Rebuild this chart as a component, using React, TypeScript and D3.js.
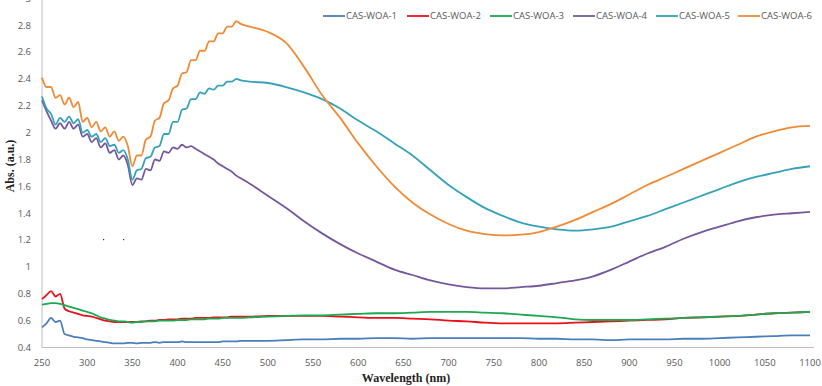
import React from "react";
import * as d3 from "d3";

const wavelengths = [
  250, 255, 260, 265, 270, 275, 280, 285, 290, 295, 300, 305, 310, 315, 320, 325, 330, 335, 340, 345,
  350, 355, 360, 365, 370, 375, 380, 385, 390, 395, 400, 405, 410, 415, 420, 425, 430, 435, 440, 445,
  450, 455, 460, 465, 470,
  480, 500, 520, 540, 560, 580, 600, 620, 640, 660, 680, 700, 720, 740, 760, 780, 800, 820, 840, 860,
  880, 900, 920, 940, 960, 980, 1000, 1020, 1040, 1060, 1080, 1100,
];

const casWoa1 = [
  0.55, 0.58, 0.62, 0.59, 0.6, 0.5, 0.49, 0.48, 0.475, 0.47, 0.46, 0.455, 0.45, 0.445, 0.44, 0.435, 0.43, 0.43, 0.43, 0.435,
  0.435, 0.43, 0.435, 0.435, 0.435, 0.44, 0.435, 0.44, 0.44, 0.44, 0.44, 0.445, 0.44, 0.44, 0.44, 0.44, 0.44, 0.44, 0.44, 0.44,
  0.445, 0.445, 0.445, 0.445, 0.45,
  0.45, 0.45, 0.455, 0.46, 0.46, 0.465, 0.465, 0.47, 0.47, 0.465, 0.47, 0.47, 0.47, 0.47, 0.47, 0.47, 0.465, 0.465, 0.46, 0.46,
  0.455, 0.46, 0.46, 0.46, 0.465, 0.465, 0.47, 0.475, 0.48, 0.485, 0.49, 0.49,
];

const casWoa2 = [
  0.76, 0.79, 0.82, 0.78, 0.8, 0.69, 0.67, 0.66, 0.65, 0.64, 0.635, 0.63, 0.62, 0.61, 0.6, 0.595, 0.59, 0.59, 0.59, 0.59,
  0.59, 0.59, 0.595, 0.595, 0.6, 0.6, 0.605, 0.605, 0.61, 0.61, 0.61, 0.615, 0.615, 0.615, 0.62, 0.62, 0.62, 0.62, 0.625, 0.625,
  0.625, 0.625, 0.63, 0.63, 0.63,
  0.63, 0.635, 0.635, 0.635, 0.635, 0.63, 0.625, 0.62, 0.62, 0.615, 0.61, 0.6, 0.595, 0.585, 0.58, 0.58, 0.58, 0.58, 0.585, 0.59,
  0.595, 0.6, 0.605, 0.61, 0.62, 0.625, 0.63, 0.635, 0.645, 0.655, 0.66, 0.665,
];

const casWoa3 = [
  0.72, 0.725, 0.73, 0.73, 0.725, 0.715, 0.705, 0.695, 0.685, 0.675, 0.665, 0.655, 0.64, 0.625, 0.615, 0.605, 0.6, 0.595, 0.595, 0.59,
  0.585, 0.59, 0.59, 0.595, 0.595, 0.595, 0.6, 0.6, 0.6, 0.6, 0.605, 0.605, 0.605, 0.61, 0.61, 0.61, 0.61, 0.615, 0.615, 0.615,
  0.62, 0.62, 0.62, 0.62, 0.62,
  0.625, 0.63, 0.635, 0.64, 0.64, 0.645, 0.65, 0.655, 0.655, 0.66, 0.665, 0.665, 0.665, 0.66, 0.655, 0.645, 0.635, 0.625, 0.61, 0.605,
  0.605, 0.605, 0.61, 0.615, 0.62, 0.625, 0.63, 0.635, 0.645, 0.655, 0.66, 0.665,
];

const casWoa4 = [
  2.24, 2.16, 2.09, 2.03, 2.07, 2.03, 2.08, 2.03, 2.06, 1.97, 1.99, 1.93, 1.96, 1.89, 1.92, 1.85, 1.87, 1.8, 1.83, 1.76,
  1.61, 1.66, 1.65, 1.73, 1.72, 1.8, 1.79, 1.86, 1.85, 1.89, 1.88, 1.91, 1.89, 1.9, 1.88, 1.86, 1.84, 1.82, 1.8, 1.77,
  1.75, 1.73, 1.71, 1.68, 1.66,
  1.62, 1.53, 1.44, 1.34, 1.25, 1.17, 1.1, 1.04, 0.98, 0.94, 0.9, 0.87, 0.85, 0.84, 0.84, 0.85, 0.86, 0.88, 0.9, 0.93,
  0.98, 1.04, 1.1, 1.15, 1.21, 1.26, 1.3, 1.34, 1.37, 1.39, 1.4, 1.41,
];

const casWoa5 = [
  2.27, 2.18, 2.14, 2.06, 2.11, 2.08, 2.12, 2.07, 2.1, 2.0, 2.02, 1.97, 1.99, 1.93, 1.96, 1.9, 1.91, 1.85, 1.87, 1.8,
  1.65, 1.72, 1.73, 1.81, 1.82, 1.89, 1.9, 1.99, 1.99, 2.08, 2.08, 2.17, 2.18, 2.25, 2.25, 2.3, 2.29, 2.33, 2.32, 2.35,
  2.35, 2.38, 2.38, 2.4, 2.39,
  2.38, 2.37, 2.34, 2.3, 2.25, 2.18, 2.09, 2.01, 1.92, 1.83, 1.72, 1.61, 1.52, 1.44, 1.38, 1.33, 1.3, 1.28, 1.27, 1.28,
  1.3, 1.34, 1.38, 1.43, 1.48, 1.53, 1.58, 1.63, 1.67, 1.7, 1.73, 1.75,
];

const casWoa6 = [
  2.41, 2.34, 2.34, 2.26, 2.28, 2.21, 2.26, 2.19, 2.23, 2.08, 2.11, 2.04, 2.08, 2.01, 2.04, 1.97, 2.01, 1.94, 1.97, 1.9,
  1.75, 1.83, 1.83, 1.95, 1.97, 2.09, 2.11, 2.22, 2.24, 2.33, 2.35, 2.44, 2.45, 2.54, 2.54, 2.61, 2.61, 2.68, 2.68, 2.74,
  2.74, 2.79, 2.79, 2.83, 2.81,
  2.79, 2.75, 2.67, 2.49, 2.28, 2.11, 1.92, 1.75, 1.6, 1.48, 1.39, 1.32, 1.27, 1.245, 1.235, 1.24, 1.26, 1.3, 1.35, 1.41,
  1.47, 1.54, 1.61, 1.67, 1.73, 1.79, 1.85, 1.91, 1.97, 2.01, 2.04, 2.05,
];

const seriesNames = ["CAS-WOA-1", "CAS-WOA-2", "CAS-WOA-3", "CAS-WOA-4", "CAS-WOA-5", "CAS-WOA-6"];
const seriesValues = [casWoa1, casWoa2, casWoa3, casWoa4, casWoa5, casWoa6];
const seriesColors = ["#4A7EBB", "#E8101A", "#1DA852", "#76579D", "#35A2BA", "#F08A35"];

const xTicks = [250, 300, 350, 400, 450, 500, 550, 600, 650, 700, 750, 800, 850, 900, 950, 1000, 1050, 1100];
const yTicks = [0.4, 0.6, 0.8, 1, 1.2, 1.4, 1.6, 1.8, 2, 2.2, 2.4, 2.6, 2.8, 3];

export default function App() {
  const W = 822;
  const H = 386;
  const x = d3.scaleLinear().domain([250, 1100]).range([42, 810]);
  const y = d3.scaleLinear().domain([0.4, 3.0]).range([347.5, -1.6]);
  const line = d3
    .line<number>()
    .x((_, i) => x(wavelengths[i]))
    .y((d) => y(d))
    .curve(d3.curveMonotoneX);

  const tickFont = "'Open Sans', 'Noto Sans', sans-serif";
  const legendX = [323, 407, 490, 573, 656, 738];

  return (
    <svg
      width={W}
      height={H}
      style={{ position: "absolute", left: 0, top: 0, background: "#fff" }}
    >
      <rect x={0} y={0} width={W} height={H} fill="#fff" />
      {/* axes */}
      <line x1={x(250)} x2={x(250)} y1={0} y2={y(0.4)} stroke="#BFBFBF" strokeWidth={1} />
      <line x1={x(250)} x2={x(1100) + 4} y1={y(0.4)} y2={y(0.4)} stroke="#BFBFBF" strokeWidth={1} />
      {yTicks.map((t) => (
        <text
          key={"y" + t}
          x={31}
          y={y(t)}
          dy="0.35em"
          textAnchor="end"
          fontSize={9.5}
          fontFamily={tickFont}
          fill="#595959"
        >
          {d3.format("~g")(t)}
        </text>
      ))}
      {xTicks.map((t) => (
        <text
          key={"x" + t}
          x={x(t)}
          y={363}
          dy="0.35em"
          textAnchor="middle"
          fontSize={9.5}
          fontFamily={tickFont}
          fill="#595959"
        >
          {t}
        </text>
      ))}
      {/* series */}
      {seriesValues.map((vals, i) => (
        <path
          key={seriesNames[i]}
          d={line(vals) || ""}
          fill="none"
          stroke={seriesColors[i]}
          strokeWidth={1.8}
          strokeLinejoin="round"
        />
      ))}
      {/* legend */}
      {seriesNames.map((n, i) => (
        <g key={"lg" + n} transform={`translate(${legendX[i]},16)`}>
          <line x1={0} x2={22} y1={0} y2={0} stroke={seriesColors[i]} strokeWidth={1.8} />
          <text x={23} y={0} dy="0.35em" fontSize={9.5} fontFamily={tickFont} fill="#595959">
            {n}
          </text>
        </g>
      ))}
      {/* axis titles */}
      <text
        x={406}
        y={382}
        textAnchor="middle"
        fontFamily="'Liberation Serif', 'DejaVu Serif', serif"
        fontWeight="bold"
        fontSize={12}
        fill="#222"
      >
        Wavelength (nm)
      </text>
      <text
        transform="translate(10,166) rotate(-90)"
        dy="0.35em"
        textAnchor="middle"
        fontFamily="'Liberation Serif', 'DejaVu Serif', serif"
        fontWeight="bold"
        fontSize={12}
        fill="#222"
      >
        Abs. (a.u.)
      </text>
      <rect x={103} y={239} width={1.2} height={1.2} fill="#333" />
      <rect x={123} y={239} width={1.2} height={1.2} fill="#333" />
    </svg>
  );
}
